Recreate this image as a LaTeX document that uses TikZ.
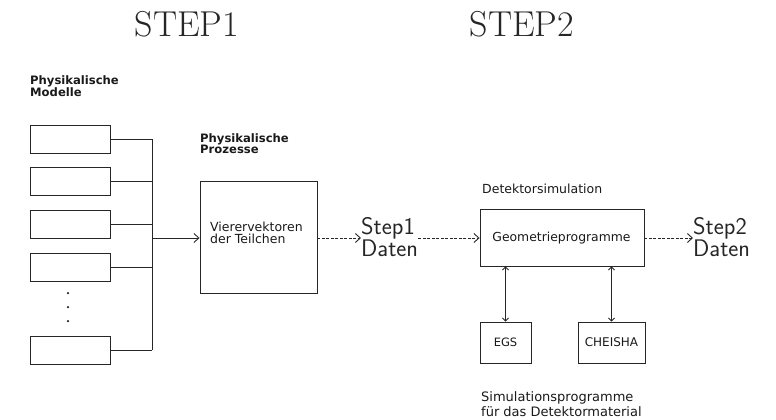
\documentclass[tikz,border=0pt]{standalone}
\usepackage{fontspec}
\usetikzlibrary{arrows.meta}
\newfontfamily\dm{DejaVu Sans}
\tikzset{
  ink/.style={draw=black!85, line width=0.9pt},
  plainbox/.style={ink, rectangle, inner sep=0pt},
  lbl/.style={inner sep=0pt, align=left, text=black!90, font=\dm\fontsize{12.5}{11}\selectfont},
  boldlbl/.style={inner sep=0pt, align=left, text=black!90, font=\dm\bfseries\fontsize{11.6}{11}\selectfont},
  smalltxt/.style={inner sep=0pt, text=black!90, font=\dm\fontsize{12.5}{12}\selectfont},
  bigtitle/.style={inner sep=0pt, text=black!85, font=\fontsize{36}{40}\selectfont},
  datatxt/.style={inner sep=0pt, align=left, text=black!85, font=\sffamily\fontsize{24}{21}\selectfont},
  conn/.style={ink},
  flow/.style={ink, dash pattern=on 3pt off 1.5pt, -{Straight Barb[length=5pt,width=9pt]}},
  twoway/.style={ink, {Straight Barb[length=3pt,width=6pt]}-{Straight Barb[length=3pt,width=6pt]}},
  dotmark/.style={circle, fill=black!85, inner sep=0pt, minimum size=2.5pt}
}
\begin{document}
\begin{tikzpicture}[x=1pt,y=-1pt]
\useasboundingbox (0,0) rectangle (776,420);

% titles
\node[bigtitle, anchor=base] (t1) at (187,37) {STEP1};
\node[bigtitle, anchor=base] (t2) at (522,37) {STEP2};

% labels
\node[boldlbl, anchor=north west] (pm) at (30,75) {Physikalische\\Modelle};
\node[boldlbl, anchor=north west] (pp) at (200,133) {Physikalische\\Prozesse};
\node[lbl, anchor=west] (ds) at (482,189) {Detektorsimulation};
\node[lbl, anchor=north west, font=\dm\fontsize{13}{15}\selectfont] (sp) at (481,391) {Simulationsprogramme\\für das Detektormaterial};

% left model boxes
\node[plainbox, minimum width=80pt, minimum height=28pt] (m1) at (70,139) {};
\node[plainbox, minimum width=80pt, minimum height=28pt] (m2) at (70,181) {};
\node[plainbox, minimum width=80pt, minimum height=28pt] (m3) at (70,224) {};
\node[plainbox, minimum width=80pt, minimum height=28pt] (m4) at (70,267) {};
\node[plainbox, minimum width=80pt, minimum height=28pt] (m5) at (70,350) {};
\node[dotmark] (d1) at (68,293) {};
\node[dotmark] (d2) at (68,307) {};
\node[dotmark] (d3) at (68,321) {};

\coordinate (bus1) at (152,139);
\coordinate (bus5) at (152,350);
\coordinate (busa) at (152,238);

\draw[conn] (m1.east) -- (bus1);
\draw[conn] (m2.east) -- (m2.east -| bus1);
\draw[conn] (m3.east) -- (m3.east -| bus1);
\draw[conn] (m4.east) -- (m4.east -| bus1);
\draw[conn] (m5.east) -- (bus5);
\draw[conn] (bus1) -- (bus5);

% four-vectors box
\node[plainbox, minimum width=117pt, minimum height=112pt] (vv) at (258.5,237) {};
\node[lbl, anchor=west, font=\dm\fontsize{12.5}{12}\selectfont] (vvt) at (210,233) {Vierervektoren\\der Teilchen};

\draw[conn, -{Straight Barb[length=5pt,width=9pt]}] (busa) -- (busa -| vv.west);

% Step1 Daten
\node[datatxt, anchor=west] (s1) at (361,237) {Step1\\Daten};
\draw[flow] (vv.east |- busa) -- (s1.west |- busa);

% geometry box
\node[plainbox, minimum width=164pt, minimum height=57pt] (geo) at (562,237.5) {};
\node[smalltxt, font=\dm\fontsize{12.4}{12}\selectfont] (geot) at (561.5,238) {Geometrieprogramme};
\draw[flow] (s1.east |- busa) -- (geo.west |- busa);

% Step2 Daten
\node[datatxt, anchor=west] (s2) at (693,237) {Step2\\Daten};
\draw[flow] (geo.east |- busa) -- (s2.west |- busa);

% EGS and CHEISHA
\node[plainbox, minimum width=51pt, minimum height=41pt, font=\dm\fontsize{11.5}{12}\selectfont, text=black!90] (egs) at (505.5,342.5) {EGS};
\node[plainbox, minimum width=67pt, minimum height=41pt, font=\dm\fontsize{12}{12}\selectfont, text=black!90] (ch) at (611.5,342.5) {CHEISHA};
\draw[twoway] (egs.north) -- (egs.north |- geo.south);
\draw[twoway] (ch.north) -- (ch.north |- geo.south);

\end{tikzpicture}
\end{document}
